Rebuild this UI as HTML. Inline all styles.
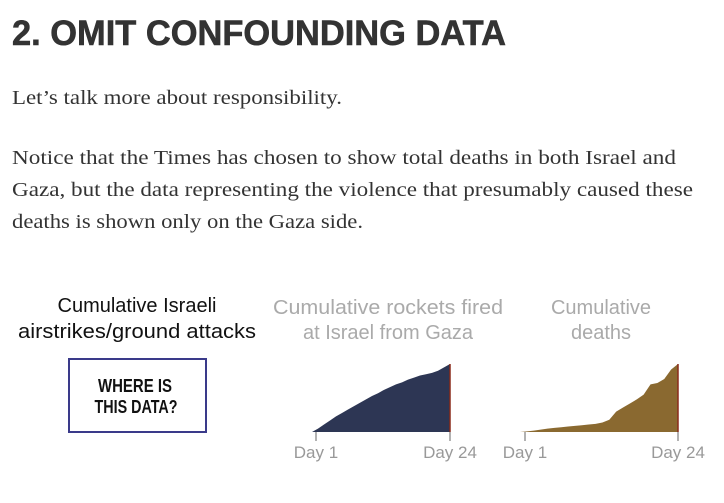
<!DOCTYPE html>
<html><head><meta charset="utf-8"><style>
html,body{margin:0;padding:0;background:#fff;}
svg{display:block}
.b{font-family:"Liberation Serif",serif;font-size:20px;fill:#333}
.t{font-family:"Liberation Sans",sans-serif;font-size:20px}
</style></head><body>
<svg id="s" width="724" height="503" viewBox="0 0 724 503">
<text x="12" y="45" textLength="494" lengthAdjust="spacingAndGlyphs" style="font-family:'Liberation Sans',sans-serif;font-weight:bold;font-size:35px;fill:#333;stroke:#333;stroke-width:0.6">2. OMIT CONFOUNDING DATA</text>
<text class="b" x="12" y="104" textLength="330" lengthAdjust="spacingAndGlyphs">Let’s talk more about responsibility.</text>
<text class="b" x="12" y="164" textLength="664" lengthAdjust="spacingAndGlyphs">Notice that the Times has chosen to show total deaths in both Israel and</text>
<text class="b" x="12" y="196" textLength="681" lengthAdjust="spacingAndGlyphs">Gaza, but the data representing the violence that presumably caused these</text>
<text class="b" x="12" y="228" textLength="351" lengthAdjust="spacingAndGlyphs">deaths is shown only on the Gaza side.</text>

<g class="t" text-anchor="middle">
<text x="137" y="312" fill="#111">Cumulative Israeli</text>
<text x="137" y="338" fill="#111" textLength="238" lengthAdjust="spacingAndGlyphs">airstrikes/ground attacks</text>
<text x="388" y="314" fill="#aaa" textLength="230" lengthAdjust="spacingAndGlyphs">Cumulative rockets fired</text>
<text x="388" y="339" fill="#aaa">at Israel from Gaza</text>
<text x="601" y="314" fill="#aaa">Cumulative</text>
<text x="601" y="339" fill="#aaa">deaths</text>
</g>
<rect x="69" y="359" width="137" height="73" fill="#fff" stroke="#3a3a8a" stroke-width="2"/>
<text x="135" y="392" text-anchor="middle" textLength="74" lengthAdjust="spacingAndGlyphs" style="font-family:'Liberation Sans',sans-serif;font-weight:bold;font-size:18px;fill:#111">WHERE IS</text>
<text x="136" y="413" text-anchor="middle" textLength="83" lengthAdjust="spacingAndGlyphs" style="font-family:'Liberation Sans',sans-serif;font-weight:bold;font-size:18px;fill:#111">THIS DATA?</text>
<g id="charts"></g>
</svg>
<script>
const days = [1,2,3,4,5,6,7,8,9,10,11,12,13,14,15,16,17,18,19,20,21,22,23,24];
const rockets = [0,0.05,0.11,0.17,0.23,0.28,0.33,0.38,0.43,0.48,0.53,0.57,0.62,0.66,0.70,0.73,0.77,0.80,0.83,0.85,0.87,0.90,0.95,1.0];
const deaths = [0,0.01,0.02,0.035,0.05,0.06,0.07,0.08,0.09,0.10,0.11,0.12,0.14,0.18,0.30,0.36,0.42,0.48,0.55,0.70,0.72,0.78,0.92,1.0];
const tickLabels = ["Day 1","Day 24"];
const NS="http://www.w3.org/2000/svg";
const g=document.getElementById('charts');
function draw(vals,x0,x1,t0,fill,name){
  const base=432,top=364;
  const xs=d=>x0+(d-1)/(days.length-1)*(x1-x0);
  const ys=v=>base-v*(base-top);
  let p=`M${xs(days[0])},${base}`;
  days.forEach((d,i)=>p+=` L${xs(d)},${ys(vals[i])}`);
  p+=` L${xs(days[days.length-1])},${base}Z`;
  const a=document.createElementNS(NS,'path');
  a.setAttribute('d',p);a.setAttribute('fill',fill);
  
  
  g.appendChild(a);
  const e=document.createElementNS(NS,'line');
  e.setAttribute('x1',x1);e.setAttribute('x2',x1);e.setAttribute('y1',ys(vals[vals.length-1]));e.setAttribute('y2',base);
  e.setAttribute('stroke','#8a2a1a');e.setAttribute('stroke-width','1.5');
  
  
  g.appendChild(e);
  [t0,x1].forEach((tx,i)=>{
    const l=document.createElementNS(NS,'line');
    l.setAttribute('x1',tx);l.setAttribute('x2',tx);l.setAttribute('y1',base);l.setAttribute('y2',441);
    l.setAttribute('stroke','#999');l.setAttribute('stroke-width','1.5');
    
    
    g.appendChild(l);
    const t=document.createElementNS(NS,'text');
    t.setAttribute('x',tx);t.setAttribute('y',458);t.setAttribute('text-anchor','middle');
    t.setAttribute('style','font-family:"Liberation Sans",sans-serif;font-size:17px;fill:#999');
    t.textContent=tickLabels[i];
    
    
    g.appendChild(t);
  });
}
draw(rockets,312,450,316,'#2d3654','rockets');
draw(deaths,520,678,525,'#8a6930','deaths');
</script>
</body></html>
